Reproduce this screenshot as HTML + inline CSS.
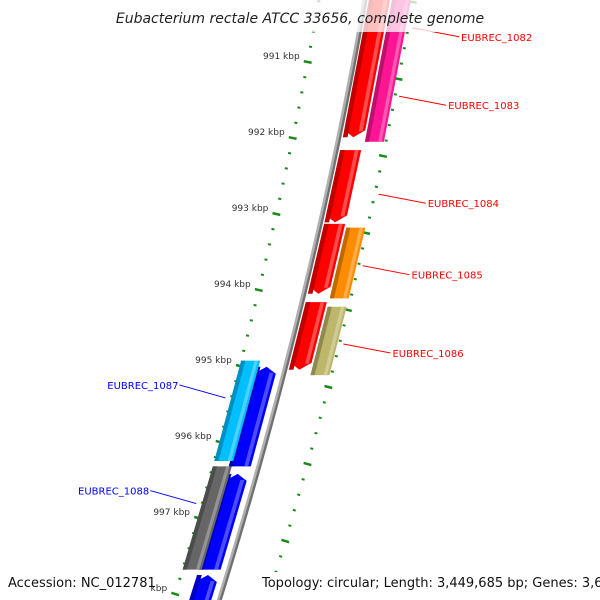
<!DOCTYPE html>
<html><head><meta charset="utf-8"><style>
html,body{margin:0;padding:0;background:#fff;}
svg{display:block;font-family:"DejaVu Sans","Liberation Sans",sans-serif;}
</style></head><body>
<svg id="map" width="600" height="600" viewBox="0 0 600 600">
<g id="ticks"></g>
<g id="backbone"></g>
<g id="features"></g>
<g id="labels"></g>
<rect x="112" y="0" width="376" height="32" fill="#fff" fill-opacity="0.75"/>
<text x="300" y="23" text-anchor="middle" font-style="italic" font-size="14" fill="#222">Eubacterium rectale ATCC 33656, complete genome</text>
<rect x="0" y="572" width="147" height="24" fill="#fff"/>
<text x="8" y="587" font-size="13" fill="#111">Accession: NC_012781</text>
<rect x="258" y="572" width="342" height="24" fill="#fff"/>
<text x="262" y="587" font-size="13" fill="#111">Topology: circular; Length: 3,449,685 bp; Genes: 3,693</text>
</svg>
<script>
// data
const featNames = ["EUBREC_1082","EUBREC_1083","EUBREC_1084","EUBREC_1085","EUBREC_1085b","EUBREC_1086","EUBREC_1086b","EUBREC_1087b","EUBREC_1087","EUBREC_1088b","EUBREC_1088","EUBREC_1089"];
const featStart = [990.18,990.18,992.16,993.13,993.18,994.16,994.22,995.01,994.93,996.42,996.32,997.75];
const featEnd   = [991.99,992.05,993.11,994.05,994.11,995.05,995.12,996.32,996.25,997.68,997.68,998.40];
const featLane  = [1,2,1,1,2,1,2,-1,-2,-1,-2,-1];
const featColor = ["#ff0000","#ff1493","#ff0000","#ff0000","#ff8c00","#ff0000","#bdb76b","#0000ff","#00bfff","#0000ff","#666666","#0000ff"];
const featArrow = [1,0,1,1,0,1,0,1,0,1,0,1];
const labelText = ["EUBREC_1082","EUBREC_1083","EUBREC_1084","EUBREC_1085","EUBREC_1086","EUBREC_1087","EUBREC_1088"];
const labelKbp  = [990.55,991.45,992.74,993.68,994.71,995.42,996.81];
const labelSide = [1,1,1,1,1,-1,-1];
const majorTicks = [991,992,993,994,995,996,997,998];

const NS="http://www.w3.org/2000/svg";
function mk(t,a,p){const e=document.createElementNS(NS,t);for(const k in a)e.setAttribute(k,a[k]);p.appendChild(e);return e;}
// axis functions
function yOf(k){return 62+(k-991)*76;}
function yRight(k){return 2+(k-991)*77;}
function bx(y){return 365-0.175*y-0.000113*y*y;}
function slope(y){return -0.175-2*0.000113*y;}
function pt(y,off){return [bx(y)+off,y];}
const laneOff={1:[4,25],2:[27,46],"-1":[-30,-8],"-2":[-46,-27]};

// backbone
const bb=document.getElementById('backbone');
let d1="",d2="";
for(let y=-5;y<=605;y+=5){d1+=(y<0?"M":"L")+(bx(y)-1.2)+","+y;d2+=(y<0?"M":"L")+(bx(y)+1.3)+","+y;}
mk('path',{d:d1,stroke:'#b0b0b0','stroke-width':2.6,fill:'none'},bb);
mk('path',{d:d2,stroke:'#707070','stroke-width':2.4,fill:'none'},bb);

// ticks
const tg=document.getElementById('ticks');
function tick(x,y,len,h){const ang=Math.atan(-slope(y))*180/Math.PI;
 const r=mk('rect',{x:x-len/2,y:y-h/2,width:len,height:h,fill:'#1a8a1a',transform:`rotate(${ang} ${x} ${y})`},tg);
 
 }
for(let i=-5;i<=40;i++){
 const k=991+i*0.2;const major=(i%5===0);
 const yl=yOf(k); if(yl>-5&&yl<605) tick(bx(yl)-46,yl,major?8:3,major?2.5:2);
 const yr=yRight(k); if(yr>-5&&yr<605) tick(bx(yr)+48,yr,major?8:3,major?2.5:2);
}
majorTicks.forEach(k=>{const y=yOf(k);
 const t=mk('text',{x:bx(y)-54,y:y-3,'text-anchor':'end','font-size':9,fill:'#333'},tg);
 
 
 t.textContent=k+" kbp";});

// features
const fg=document.getElementById('features');
function shade(hex,f){const n=parseInt(hex.slice(1),16);let r=n>>16,g=(n>>8)&255,b=n&255;
 if(f>0){r+=(255-r)*f;g+=(255-g)*f;b+=(255-b)*f;}else{r*=1+f;g*=1+f;b*=1+f;}
 return `rgb(${r|0},${g|0},${b|0})`;}
function strip(y0,y1,o0,o1,arrowDir){ // polygon points
 const pts=[];const om=(o0+o1)/2;
 if(arrowDir===-1){pts.push(pt(y0+7,o0),pt(y0,om),pt(y0+7,o1));}else{pts.push(pt(y0,o0),pt(y0,o1));}
 if(arrowDir===1){pts.push(pt(y1-7,o1),pt(y1,om),pt(y1-7,o0));}else{pts.push(pt(y1,o1),pt(y1,o0));}
 return pts.map(p=>p.join(",")).join(" ");}
featNames.forEach((n,i)=>{
 const y0=yOf(featStart[i]),y1=yOf(featEnd[i]);const [o0,o1]=laneOff[featLane[i]];
 const dir=featArrow[i]?(featLane[i]>0?1:-1):0;
 const g=mk('g',{},fg);
 
 
 const w=o1-o0;
 mk('polygon',{points:strip(y0,y1,o0,o1,dir),fill:featColor[i]},g);
 mk('polygon',{points:strip(y0,y1,o0,o0+w*0.22,0),fill:shade(featColor[i],-0.25)},g);
 mk('polygon',{points:strip(y0+(dir===-1?6:0),y1-(dir===1?6:0),o1-w*0.3,o1-w*0.12,0),fill:shade(featColor[i],0.3)},g);
});

// labels
const lg=document.getElementById('labels');
labelText.forEach((t,i)=>{
 const y=yOf(labelKbp[i]);const side=labelSide[i];
 const col=side>0?'#ff0000':'#0000ff';
 let x1,x2,y2;
 if(side>0){x1=bx(y)+52;x2=x1+47;y2=y+9;}else{x1=bx(y)-52;x2=x1-46;y2=y-13;}
 const l=mk('line',{x1:x1,y1:y,x2:x2,y2:y2,stroke:col,'stroke-width':1},lg);
 
 
 const tx=mk('text',{x:side>0?x2+2:x2-1,y:y2+4,'text-anchor':side>0?'start':'end','font-size':10,fill:col},lg);
 
 
 tx.textContent=t;
});
</script>
</body></html>
